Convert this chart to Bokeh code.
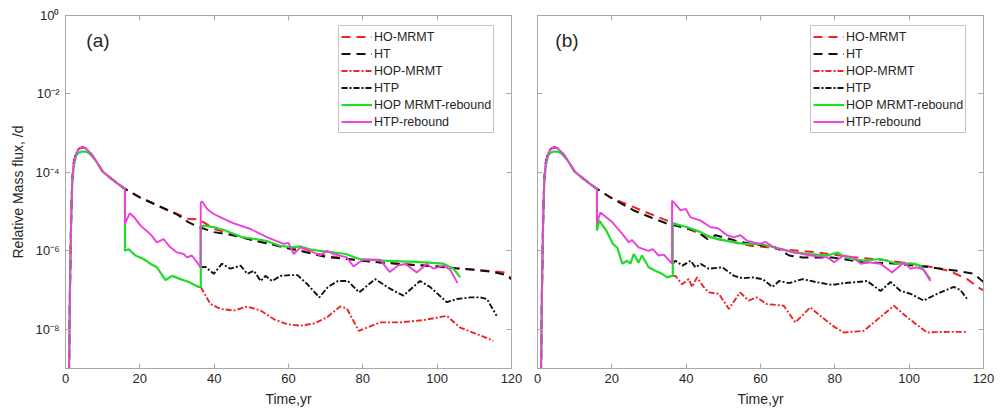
from bokeh.plotting import figure
from bokeh.models import (Range1d, FixedTicker, CustomJSTickFormatter, LinearAxis, LogAxis,
                          Legend, LegendItem, Label)
from bokeh.layouts import row
from bokeh.embed import file_html
from bokeh.resources import INLINE

# ---------------- data (time in years, relative mass flux in 1/d) ----------------
t_rise = [0.9, 1.2, 1.5, 1.8, 2.2, 2.8, 3.5, 4.5, 5.5, 6.5, 8.0, 10.0, 12.0, 14.0, 16.0]
mag_rise = [3e-10, 1e-7, 5e-6, 6e-5, 1.7e-4, 3.0e-4, 3.9e-4, 4.4e-4, 4.1e-4, 3.3e-4, 2.1e-4, 1.05e-4, 7.3e-5, 5.2e-5, 3.8e-5]
grn_rise = [3e-10, 1e-7, 5e-6, 5e-5, 1.4e-4, 2.6e-4, 3.2e-4, 3.4e-4, 3.4e-4, 3.0e-4, 2.1e-4, 1.05e-4, 7.3e-5, 5.2e-5, 3.8e-5]

# panel (a)
a_ho_t = [16, 20, 25, 30, 33, 36, 40, 45, 50, 55, 60, 65, 70, 75, 80, 85, 90, 95, 100, 105, 110, 115, 118, 120]
a_ho_v = [3.8e-5, 2.3e-5, 1.4e-5, 8.7e-6, 6.6e-6, 6.3e-6, 3.6e-6, 2.6e-6, 1.9e-6, 1.5e-6, 1.2e-6, 9.5e-7,
          7.6e-7, 6.4e-7, 5.6e-7, 5.1e-7, 4.7e-7, 4.3e-7, 4.0e-7, 3.6e-7, 3.3e-7, 3.0e-7, 2.8e-7, 2.0e-7]
a_ht_t = [16, 20, 25, 30, 33, 36, 40, 45, 50, 55, 60, 65, 70, 75, 80, 85, 90, 95, 100, 105, 110, 115, 118, 120]
a_ht_v = [3.8e-5, 2.3e-5, 1.4e-5, 8.5e-6, 5.4e-6, 4.0e-6, 3.0e-6, 2.5e-6, 1.9e-6, 1.5e-6, 1.15e-6, 9.0e-7,
          7.0e-7, 6.3e-7, 5.6e-7, 5.0e-7, 4.6e-7, 4.3e-7, 4.0e-7, 3.6e-7, 3.3e-7, 2.9e-7, 2.5e-7, 1.9e-7]
a_hop_t = [36.4, 37.7, 39.0, 41.7, 45.3, 48.9, 52.5, 56.1, 59.6, 63.2, 66.8, 70.3, 73.9, 75.7, 78.9, 84.7,
           90.0, 96.0, 102.6, 106.2, 110.0, 115.1]
a_hop_v = [1.2e-7, 7.2e-8, 4.4e-8, 3.3e-8, 3.0e-8, 3.8e-8, 3.0e-8, 1.8e-8, 1.35e-8, 1.23e-8, 1.4e-8, 2.0e-8,
           3.8e-8, 3.4e-8, 9.1e-9, 1.5e-8, 1.5e-8, 1.7e-8, 2.2e-8, 1.1e-8, 8.0e-9, 5.1e-9]
a_htp_t = [36.4, 37.7, 39.9, 42.1, 44.4, 47.1, 48.9, 50.7, 52.5, 53.8, 55.6, 57.9, 60.5, 62.4, 65.1, 68.3,
           70.6, 73.3, 76.0, 79.0, 83.3, 87.4, 90.9, 95.4, 98.1, 102.6, 105.3, 109.0, 111.6, 113.4, 116.0]
a_htp_v = [3.8e-7, 3.9e-7, 2.6e-7, 4.7e-7, 3.5e-7, 4.2e-7, 2.6e-7, 3.1e-7, 1.7e-7, 2.3e-7, 1.7e-7, 2.3e-7,
           2.4e-7, 2.4e-7, 1.4e-7, 6.5e-8, 1.2e-7, 1.7e-7, 1.7e-7, 8.7e-8, 1.9e-7, 1.07e-7, 7.2e-8, 1.7e-7,
           1.2e-7, 4.9e-8, 5.9e-8, 6.5e-8, 6.5e-8, 5.9e-8, 2.2e-8]
a_grn_t = [16.0, 16.0, 17.0, 18.8, 21.0, 22.8, 24.6, 26.9, 28.7, 30.9, 33.2, 35.8, 36.4, 36.4, 37.0, 40.0,
           43.0, 47.7, 51.0, 54.0, 57.6, 61.2, 63.0, 65.7, 68.3, 72.0, 75.5, 79.0, 85.5, 90.0, 94.5, 101.7,
           104.4, 106.2]
a_grn_v = [3.8e-5, 1.0e-6, 1.1e-6, 7.6e-7, 6.2e-7, 4.7e-7, 3.8e-7, 1.8e-7, 2.3e-7, 1.9e-7, 1.6e-7, 1.2e-7,
           1.2e-7, 4.0e-6, 4.4e-6, 4.0e-6, 3.3e-6, 2.2e-6, 2.0e-6, 1.8e-6, 1.35e-6, 1.23e-6, 1.3e-6, 1.1e-6,
           1.0e-6, 9.1e-7, 8.3e-7, 6.2e-7, 5.6e-7, 5.4e-7, 5.2e-7, 4.7e-7, 3.5e-7, 2.1e-7]
a_mag_t = [16.0, 16.0, 17.3, 18.5, 20.2, 22.8, 24.6, 26.4, 28.2, 30.0, 31.8, 32.7, 34.0, 35.4, 36.3, 36.4,
           36.8, 38.1, 39.9, 42.6, 45.3, 49.8, 54.3, 58.7, 60.0, 61.4, 63.2, 65.9, 68.5, 70.3, 72.1, 75.7,
           77.5, 80.0, 84.7, 87.2, 89.6, 91.5, 94.5, 97.2, 99.0, 101.7, 103.5, 105.5]
a_mag_v = [3.8e-5, 4.9e-6, 9.1e-6, 7.1e-6, 4.4e-6, 2.7e-6, 1.65e-6, 2.0e-6, 1.23e-6, 9.1e-7, 8.3e-7, 6.8e-7,
           7.6e-7, 5.1e-7, 3.8e-7, 1.7e-5, 1.8e-5, 1.17e-5, 8.7e-6, 6.5e-6, 5.0e-6, 3.6e-6, 2.2e-6, 1.5e-6,
           1.6e-6, 8.3e-7, 1.23e-6, 1.0e-6, 7.6e-7, 1.0e-6, 8.3e-7, 6.8e-7, 4.0e-7, 5.9e-7, 5.9e-7, 2.9e-7,
           4.3e-7, 4.6e-7, 2.8e-7, 4.6e-7, 3.5e-7, 4.2e-7, 3.3e-7, 1.5e-7]

# panel (b)
b_ho_t = [16, 19.6, 25.9, 30.4, 34.9, 39.4, 43.9, 48.3, 52.8, 57.3, 61.8, 66.3, 70.8, 75.2, 79.7, 84.2, 88.7,
          93.2, 97.7, 102.1, 106.6, 111.1, 115.6, 119.2, 120]
b_ho_v = [3.8e-5, 2.3e-5, 1.3e-5, 8.7e-6, 5.9e-6, 4.0e-6, 2.7e-6, 2.0e-6, 1.65e-6, 1.35e-6, 1.23e-6, 1.07e-6,
          1.0e-6, 9.1e-7, 8.0e-7, 7.0e-7, 6.4e-7, 5.8e-7, 5.1e-7, 4.4e-7, 3.8e-7, 3.0e-7, 1.9e-7, 1.07e-7, 1.0e-7]
b_ht_t = [16, 19.6, 25.9, 30.4, 34.9, 37.1, 42.5, 45.7, 47.9, 55.0, 64.0, 67.7, 71.3, 79.3, 87.8, 96.8,
          105.7, 112.9, 117.4, 120]
b_ht_v = [3.8e-5, 2.3e-5, 1.07e-5, 7.2e-6, 4.9e-6, 4.4e-6, 3.3e-6, 2.0e-6, 2.5e-6, 1.65e-6, 1.23e-6, 7.6e-7,
          6.8e-7, 6.8e-7, 5.1e-7, 4.7e-7, 3.8e-7, 3.1e-7, 2.6e-7, 1.6e-7]
b_hop_t = [36.4, 37.1, 38.9, 40.7, 41.6, 42.9, 44.7, 46.1, 48.8, 51.5, 54.5, 56.8, 59.0, 61.7, 66.2, 69.4,
           73.4, 76.6, 80.2, 82.4, 87.8, 95.9, 99.5, 104.8, 110.0, 115.6]
b_hop_v = [2.3e-7, 2.3e-7, 1.4e-7, 1.9e-7, 1.2e-7, 2.1e-7, 1.2e-7, 8.7e-8, 8.0e-8, 3.3e-8, 8.7e-8, 5.4e-8,
           6.5e-8, 4.4e-8, 4.0e-8, 1.5e-8, 3.6e-8, 2.0e-8, 1.1e-8, 8.3e-9, 9.1e-9, 4.0e-8, 2.0e-8, 8.3e-9,
           8.6e-9, 8.6e-9]
b_htp_t = [36.4, 37.1, 39.0, 41.2, 42.5, 44.0, 46.1, 49.7, 52.9, 55.2, 57.9, 60.6, 63.2, 65.0, 67.7, 71.3,
           74.9, 79.3, 82.4, 86.0, 88.7, 92.3, 95.0, 97.7, 100.4, 103.9, 107.5, 112.0, 113.8, 115.6]
b_htp_v = [4.7e-7, 5.6e-7, 4.2e-7, 5.6e-7, 3.8e-7, 4.6e-7, 3.5e-7, 3.8e-7, 2.3e-7, 2.0e-7, 2.1e-7, 1.9e-7,
           1.2e-7, 1.7e-7, 1.5e-7, 1.9e-7, 1.6e-7, 1.35e-7, 1.5e-7, 1.6e-7, 1.7e-7, 9.5e-8, 1.6e-7, 9.5e-8,
           8.0e-8, 5.4e-8, 8.0e-8, 1.2e-7, 1.0e-7, 5.9e-8]
b_grn_t = [16.0, 16.0, 16.6, 18.5, 20.3, 21.5, 22.8, 24.1, 25.0, 25.9, 27.2, 28.1, 29.9, 31.7, 33.5, 34.9,
           36.2, 36.4, 36.4, 40.3, 43.9, 46.6, 51.0, 55.5, 60.0, 63.6, 69.0, 73.5, 78.0, 80.7, 82.0, 84.2,
           87.8, 92.3, 96.8, 101.3, 103.0, 105.7]
b_grn_v = [3.8e-5, 3.3e-6, 5.9e-6, 3.3e-6, 1.5e-6, 1.2e-6, 4.7e-7, 5.6e-7, 4.7e-7, 8.3e-7, 5.0e-7, 7.6e-7,
           3.8e-7, 3.1e-7, 2.6e-7, 2.1e-7, 2.3e-7, 2.3e-7, 5.0e-6, 4.0e-6, 3.0e-6, 2.2e-6, 1.8e-6, 1.5e-6,
           1.5e-6, 1.23e-6, 9.1e-7, 8.3e-7, 7.6e-7, 9.1e-7, 7.6e-7, 6.2e-7, 5.6e-7, 6.2e-7, 4.7e-7, 4.7e-7,
           4.2e-7, 1.9e-7]
b_mag_t = [16.0, 16.0, 16.9, 20.1, 22.8, 24.6, 25.4, 27.2, 29.9, 31.0, 32.6, 34.0, 36.2, 36.2, 37.0, 38.5,
           39.9, 41.2, 43.9, 46.6, 48.5, 51.0, 52.8, 54.6, 56.4, 60.0, 61.3, 63.6, 69.0, 73.5, 78.0, 79.8,
           82.4, 85.0, 87.0, 89.0, 92.3, 95.4, 98.6, 100.4, 102.0, 103.9, 105.7]
b_mag_v = [3.8e-5, 5.0e-6, 9.5e-6, 5.4e-6, 2.7e-6, 1.65e-6, 1.9e-6, 1.23e-6, 1.0e-6, 1.1e-6, 7.6e-7, 8.0e-7,
           4.7e-7, 1.9e-5, 1.6e-5, 1.07e-5, 1.17e-5, 7.1e-6, 5.9e-6, 4.0e-6, 3.8e-6, 2.5e-6, 2.2e-6, 2.5e-6,
           1.8e-6, 1.5e-6, 1.7e-6, 1.23e-6, 9.1e-7, 7.6e-7, 6.8e-7, 5.1e-7, 7.6e-7, 6.8e-7, 4.7e-7, 5.1e-7,
           4.7e-7, 2.8e-7, 5.1e-7, 3.5e-7, 3.8e-7, 3.3e-7, 1.7e-7]

series_names = ["HO-MRMT", "HT", "HOP-MRMT", "HTP", "HOP MRMT-rebound", "HTP-rebound"]
x_ticks = [0, 20, 40, 60, 80, 100, 120]
y_ticks = [1e-8, 1e-6, 1e-4, 1e-2, 1]

# ---------------- styling ----------------
FONT = "Liberation Sans"
FRAME = "#a8a8a8"
TXT = "#262626"
RED = "#f02424"
BLACK = "#111111"
GREEN = "#1fdc2a"
MAGENTA = "#ee3fdd"

styles = [
    dict(color=RED, line_dash="9 6", line_width=2.0),
    dict(color=BLACK, line_dash="9 6", line_width=2.0),
    dict(color=RED, line_dash="6 2 2 2", line_width=1.9),
    dict(color=BLACK, line_dash="6 2 2 2", line_width=1.9),
    dict(color=GREEN, line_dash="solid", line_width=2.2),
    dict(color=MAGENTA, line_dash="solid", line_width=1.9),
]

sup_code = """
const e = Math.round(Math.log10(tick));
const m = {'-':'\u207b','0':'\u2070','1':'\u00b9','2':'\u00b2','3':'\u00b3','4':'\u2074',
           '5':'\u2075','6':'\u2076','7':'\u2077','8':'\u2078','9':'\u2079'};
return '10' + String(e).split('').map(c => m[c]).join('');
"""


def style_axis(ax, labels=True):
    ax.major_tick_in = 5
    ax.major_tick_out = 0
    ax.minor_tick_line_color = None
    ax.axis_line_color = FRAME
    ax.major_tick_line_color = FRAME
    ax.major_label_text_font = FONT
    ax.major_label_text_font_size = "13px"
    ax.major_label_text_color = TXT
    ax.axis_label_text_font = FONT
    ax.axis_label_text_font_size = "14px"
    ax.axis_label_text_font_style = "normal"
    ax.axis_label_text_color = TXT
    if not labels:
        ax.formatter = CustomJSTickFormatter(code="return '';")
        ax.major_label_text_font_size = "0px"
        ax.major_label_standoff = 0


def make_panel(tag, tag_x, data, width, min_left, min_right, ylabels):
    p = figure(width=width, height=412, x_range=Range1d(0, 120), y_range=Range1d(1e-9, 1),
               y_axis_type="log", output_backend="svg", toolbar_location=None,
               min_border_left=min_left, min_border_right=min_right,
               min_border_top=15, min_border_bottom=44)
    p.grid.visible = False
    p.outline_line_color = FRAME
    p.outline_line_width = 1
    p.background_fill_color = "white"
    p.border_fill_color = "white"

    xa = p.xaxis[0]
    style_axis(xa)
    xa.ticker = FixedTicker(ticks=x_ticks)
    xa.major_label_standoff = 5
    xa.axis_label = "Time,yr"
    xa.axis_label_standoff = 5

    ya = p.yaxis[0]
    ya.ticker = FixedTicker(ticks=y_ticks)
    if ylabels:
        style_axis(ya)
        ya.formatter = CustomJSTickFormatter(code=sup_code)
        ya.major_label_standoff = 6
        ya.axis_label = "Relative Mass flux, /d"
        ya.axis_label_standoff = 6
    else:
        style_axis(ya, labels=False)

    top = LinearAxis(ticker=FixedTicker(ticks=x_ticks))
    style_axis(top, labels=False)
    p.add_layout(top, "above")
    right = LogAxis(ticker=FixedTicker(ticks=y_ticks))
    style_axis(right, labels=False)
    p.add_layout(right, "right")

    items = []
    for name, (tt, vv), st in zip(series_names, data, styles):
        r = p.line(tt, vv, line_color=st["color"], line_dash=st["line_dash"],
                   line_width=st["line_width"])
        items.append(LegendItem(label=name, renderers=[r]))

    legend = Legend(items=items, location=(273, 235),
                    label_text_font=FONT, label_text_font_size="12.5px", label_text_color=TXT,
                    glyph_width=31, glyph_height=17, label_height=17, label_standoff=2,
                    spacing=0, padding=2, margin=0,
                    border_line_color="#8c8c8c", border_line_width=1,
                    background_fill_color="white", background_fill_alpha=1.0)
    p.add_layout(legend)

    p.add_layout(Label(x=tag_x, y=0.23, text=tag, text_font=FONT, text_font_size="19px",
                       text_color=TXT, text_baseline="middle"))
    return p


data_a = [
    (t_rise + a_ho_t, mag_rise + a_ho_v),
    (t_rise + a_ht_t, mag_rise + a_ht_v),
    (a_hop_t, a_hop_v),
    (a_htp_t, a_htp_v),
    (t_rise + a_grn_t, grn_rise + a_grn_v),
    (t_rise + a_mag_t, mag_rise + a_mag_v),
]
data_b = [
    (t_rise + b_ho_t, mag_rise + b_ho_v),
    (t_rise + b_ht_t, mag_rise + b_ht_v),
    (b_hop_t, b_hop_v),
    (b_htp_t, b_htp_v),
    (t_rise + b_grn_t, grn_rise + b_grn_v),
    (t_rise + b_mag_t, mag_rise + b_mag_v),
]

p1 = make_panel("(a)", 5.6, data_a, width=522, min_left=65, min_right=11, ylabels=True)
p2 = make_panel("(b)", 4.8, data_b, width=475, min_left=15, min_right=14, ylabels=False)

layout = row(p1, p2)
open("out.html", "w").write(file_html(layout, INLINE))
